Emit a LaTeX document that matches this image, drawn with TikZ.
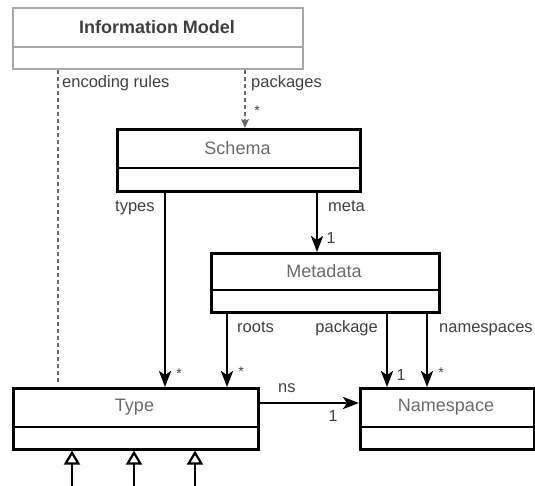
\documentclass[tikz,border=0pt]{standalone}
\usepackage{fontspec}
\setmainfont{Liberation Sans}
\usetikzlibrary{arrows.meta}
\definecolor{namegray}{HTML}{6A6A6A}
\definecolor{labgray}{HTML}{404040}
\definecolor{boxgray}{HTML}{A8A8A8}
\tikzset{
  umlbox/.style={draw=black, line width=2.6pt, anchor=north west, inner sep=0pt},
  umlboxg/.style={draw=boxgray, line width=2.4pt, anchor=north west, inner sep=0pt},
  cname/.style={text=namegray, font=\fontsize{18}{21}\selectfont, inner sep=0pt},
  lab/.style={text=labgray, font=\fontsize{16.5}{19}\selectfont, inner sep=0pt, anchor=base west},
  mult/.style={text=labgray, font=\fontsize{16}{18}\selectfont, inner sep=0pt},
  star/.style={text=labgray, font=\fontsize{14}{16}\selectfont, inner sep=0pt},
  nav/.style={draw=black, line width=2.6pt, -{Stealth[length=16pt,width=12pt,inset=4pt]}},
  dep/.style={draw=namegray, line width=1.3pt, dash pattern=on 4pt off 3pt},
  deparr/.style={dep, -{Stealth[length=9pt,width=8pt,inset=2pt]}},
  gen/.style={draw=black, line width=2.6pt, -{Triangle[open,length=14pt,width=16pt,line width=2.2pt]}},
}
\begin{document}
\begin{tikzpicture}[x=1pt,y=-1pt]
\useasboundingbox (0,0) rectangle (535,486);
% boxes
\node[umlboxg, minimum width=290pt, minimum height=61pt] (info) at (12,7) {};
\draw[boxgray, line width=2.4pt] (12,47) -- (302,47);
\node[font=\bfseries\fontsize{18}{21}\selectfont, text=labgray, inner sep=0pt] (infot) at (157,27) {Information Model};

\node[umlbox, minimum width=243pt, minimum height=62pt] (schema) at (116,128) {};
\draw[line width=2.6pt] (116,168) -- (359,168);
\node[cname] (schemat) at (237.5,148) {Schema};

\node[umlbox, minimum width=228pt, minimum height=59pt] (meta) at (210,252) {};
\draw[line width=2.6pt] (210,290) -- (438,290);
\node[cname] (metat) at (324,271) {Metadata};

\node[umlbox, minimum width=245pt, minimum height=61pt] (type) at (12,387) {};
\draw[line width=2.6pt] (12,427) -- (257,427);
\node[cname] (typet) at (134.5,407) {Type};

\node[umlbox, minimum width=173.5pt, minimum height=61pt] (ns) at (359,387) {};
\draw[line width=2.6pt] (359,427) -- (532.5,427);
\node[cname] (nst) at (446,407) {Namespace};

% dependencies
\draw[dep] (58,0 |- info.south) -- (58,383);
\node[lab] (encl) at (62,88) {encoding rules};
\draw[deparr] (245,0 |- info.south) -- (245,0 |- schema.north);
\node[lab] (pkgsl) at (251,88) {packages};
\node[star] (pkgsm) at (257,111) {*};

% navigable associations
\draw[nav] (165,0 |- schema.south) -- (165,0 |- type.north);
\node[lab] (typesl) at (115,212) {types};
\node[star] (typesm) at (179,374) {*};

\draw[nav] (317,0 |- schema.south) -- (317,0 |- meta.north);
\node[lab] (metal) at (328,212) {meta};
\node[mult] (metam) at (331,238) {1};

\draw[nav] (227,0 |- meta.south) -- (227,0 |- type.north);
\node[lab] (rootsl) at (237,332) {roots};
\node[star] (rootsm) at (241,372) {*};

\draw[nav] (387,0 |- meta.south) -- (387,0 |- ns.north);
\node[lab, anchor=base east] (pkgl) at (378,332) {package};
\node[mult] (pkgm) at (401,375) {1};

\draw[nav] (427,0 |- meta.south) -- (427,0 |- ns.north);
\node[lab] (nssl) at (439,332) {namespaces};
\node[star] (nssm) at (441,373) {*};

\draw[nav] (type.east |- 0,403) -- (ns.west |- 0,403);
\node[lab] (nsl) at (278,392) {ns};
\node[mult] (nsm) at (333,416) {1};

% generalizations
\coordinate (g1) at (72,486);
\coordinate (g2) at (134,486);
\coordinate (g3) at (195,486);
\draw[gen] (g1) -- (g1 |- type.south);
\draw[gen] (g2) -- (g2 |- type.south);
\draw[gen] (g3) -- (g3 |- type.south);
\end{tikzpicture}
\end{document}
